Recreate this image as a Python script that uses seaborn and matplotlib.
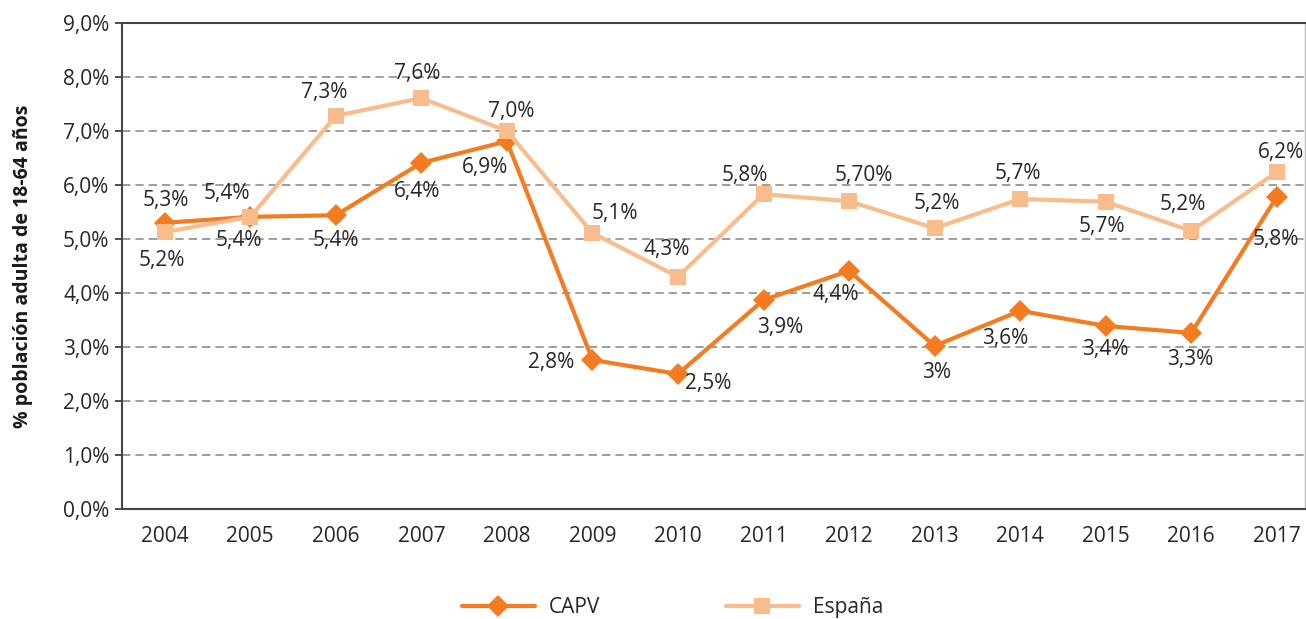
import numpy as np
import pandas as pd
import matplotlib
matplotlib.use("Agg")
import matplotlib.pyplot as plt
import seaborn as sns

years = [str(y) for y in range(2004, 2018)]
capv = [5.30, 5.41, 5.44, 6.41, 6.81, 2.76, 2.50, 3.87, 4.41, 3.02, 3.67, 3.39, 3.26, 5.78]
espana = [5.13, 5.41, 7.28, 7.61, 7.00, 5.11, 4.30, 5.83, 5.70, 5.20, 5.74, 5.69, 5.15, 6.24]
capv_labels = ["5,3%", "5,4%", "5,4%", "6,4%", "6,9%", "2,8%", "2,5%", "3,9%",
               "4,4%", "3%", "3,6%", "3,4%", "3,3%", "5,8%"]
espana_labels = ["5,2%", "5,4%", "7,3%", "7,6%", "7,0%", "5,1%", "4,3%", "5,8%",
                 "5,70%", "5,2%", "5,7%", "5,7%", "5,2%", "6,2%"]

# label offsets in pixels (dx right, dy down)
capv_off = [(1, -22), (-11, 24), (0, 25), (-4, 29), (-22, 26), (-41, 3), (30, 10),
            (17, 27), (-13, 24), (2, 27), (-15, 28), (0, 24), (-1, 27), (-1, 43)]
espana_off = [(-3, 29), (-23, -23), (-12, -23), (-4, -25), (4, -19), (22, -20), (-11, -27),
              (-19, -19), (15, -26), (2, -25), (-2, -26), (-4, 25), (-8, -26), (4, -20)]

df = pd.DataFrame({
    "year": years * 2,
    "value": capv + espana,
    "serie": ["CAPV"] * len(years) + ["España"] * len(years),
})

sns.set_style("white")
plt.rcParams["font.family"] = ["Open Sans", "DejaVu Sans"]

c_capv = "#F47B20"
c_esp = "#F9BC8C"
txt = "#262626"
fs = 15

fig = plt.figure(figsize=(13.06, 6.19), dpi=100)
ax = fig.add_axes([122 / 1306, 110 / 619, 1183 / 1306, 486 / 619])

sns.lineplot(data=df, x="year", y="value", hue="serie", style="serie",
             palette={"CAPV": c_capv, "España": c_esp},
             markers={"CAPV": "D", "España": "s"}, dashes=False,
             linewidth=3, markersize=11, markeredgewidth=0, ax=ax, legend=True)

for i, v in enumerate(capv):
    dx, dy = capv_off[i]
    ax.annotate(capv_labels[i], (i, v), xytext=(dx * 0.72, -dy * 0.72),
                textcoords="offset points", ha="center", va="center",
                fontsize=fs, color=txt)
for i, v in enumerate(espana):
    dx, dy = espana_off[i]
    ax.annotate(espana_labels[i], (i, v), xytext=(dx * 0.72, -dy * 0.72),
                textcoords="offset points", ha="center", va="center",
                fontsize=fs, color=txt)

ax.set_xlim(-0.5, 13.33)
ax.set_ylim(0, 9)
ax.set_yticks(np.arange(0, 10, 1))
ax.set_yticklabels([f"{t},0%" for t in range(10)])
for t in range(1, 9):
    ax.axhline(t, color="#8c8c8c", lw=1.2, ls=(0, (5, 3)), zorder=0)

ax.set_xlabel("")
ax.set_ylabel("% población adulta de 18-64 años", fontsize=14, fontweight="bold",
              color="#1a1a1a", labelpad=22)
ax.tick_params(axis="y", length=5, width=1.3, color="#404040", pad=4,
               labelsize=fs, labelcolor=txt, left=True)
ax.tick_params(axis="x", length=0, pad=12, labelsize=fs, labelcolor=txt)

for s in ["left", "bottom", "top"]:
    ax.spines[s].set_color("#444444")
    ax.spines[s].set_linewidth(1.5)
ax.spines["right"].set_color("#bbbbbb")
ax.spines["right"].set_linewidth(1)

handles, labels = ax.get_legend_handles_labels()
ax.get_legend().remove()
for h in handles:
    h.set_linewidth(3)
    h.set_markersize(11)
fig.legend(handles, labels, loc="center", bbox_to_anchor=(0.515, 0.018),
           ncol=2, frameon=False, fontsize=fs, handlelength=3.5,
           columnspacing=6.0, handletextpad=0.7)

fig.savefig("out.png", dpi=100)
